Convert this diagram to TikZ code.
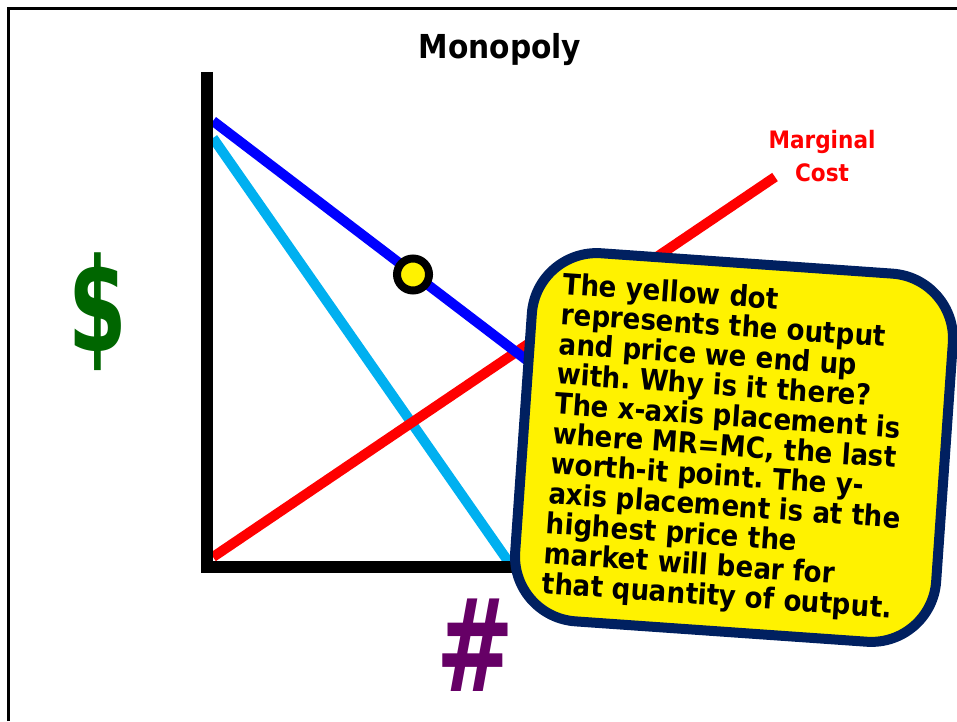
\documentclass[tikz,border=0pt]{standalone}
\usepackage{fontspec}
\newfontfamily\tah{DejaVu Sans Condensed Bold}
\frenchspacing
\definecolor{navybox}{RGB}{0,32,96}
\definecolor{mrcyan}{RGB}{0,176,240}
\definecolor{dollargreen}{RGB}{0,102,0}
\definecolor{hashpurple}{RGB}{102,0,102}
\tikzset{
  curve/.style={line width=10pt, line cap=butt},
  axisline/.style={line width=12pt, line join=miter, line cap=butt},
  callout/.style={draw=navybox, fill=yellow, line width=10pt, rounded corners=65pt,
    rotate=-4, minimum width=422pt, minimum height=369pt, inner sep=0pt},
  callouttext/.style={rotate=-4, anchor=north west, inner sep=0pt, align=left,
    font=\tah\fontsize{29}{30}\selectfont},
}
\begin{document}
\begin{tikzpicture}[x=1pt,y=1pt]
\useasboundingbox (0,0) rectangle (957,721);
% frame
\coordinate (f1) at (8.5,0);
\coordinate (f2) at (8.5,712);
\coordinate (f3) at (957,712);
\draw[line width=3pt] (f1) -- (f2) -- (f3);
% curves
\coordinate (d1) at (213,600);
\coordinate (d2) at (600,305);
\coordinate (m1) at (213,583);
\coordinate (m2) at (510,157);
\coordinate (c1) at (213,164);
\coordinate (c2) at (775,544);
\draw[curve, mrcyan] (m1) -- (m2);
\draw[curve, red] (c1) -- (c2);
\draw[curve, blue] (d1) -- (d2);
% axes
\coordinate (ytop) at (206.5,649);
\coordinate (origin) at (206.5,154);
\coordinate (xend) at (520,154);
\draw[axisline] (ytop) -- (origin) -- (xend);
% dot
\node[circle, draw=black, fill=yellow, line width=8pt, minimum size=32pt, inner sep=0pt] (dot) at (413,446.5) {};
% title and labels
\node[anchor=base, font=\tah\fontsize{33}{33}\selectfont] (title) at (500,662) {Monopoly};
\node[align=center, text=red, font=\tah\fontsize{24}{33}\selectfont] (mc) at (822,565) {Marginal\\Cost};
\node[text=dollargreen, font=\tah\fontsize{130}{130}\selectfont, inner sep=0pt] (dollar) at (98,409) {\scalebox{0.72}[1]{\$}};
\node[text=hashpurple, font=\tah\fontsize{129}{129}\selectfont, inner sep=0pt] (hash) at (475,76) {\scalebox{0.8}[1]{\#}};
% callout
\node[callout] (note) at (734,273.5) {};
\node[callouttext] (notetext) at (564,449) {The yellow dot\\represents the output\\and price we end up\\with. Why is it there?\\The x-axis placement is\\where MR=MC, the last\\worth-it point. The y-\\axis placement is at the\\highest price the\\market will bear for\\that quantity of output.};
\end{tikzpicture}
\end{document}
